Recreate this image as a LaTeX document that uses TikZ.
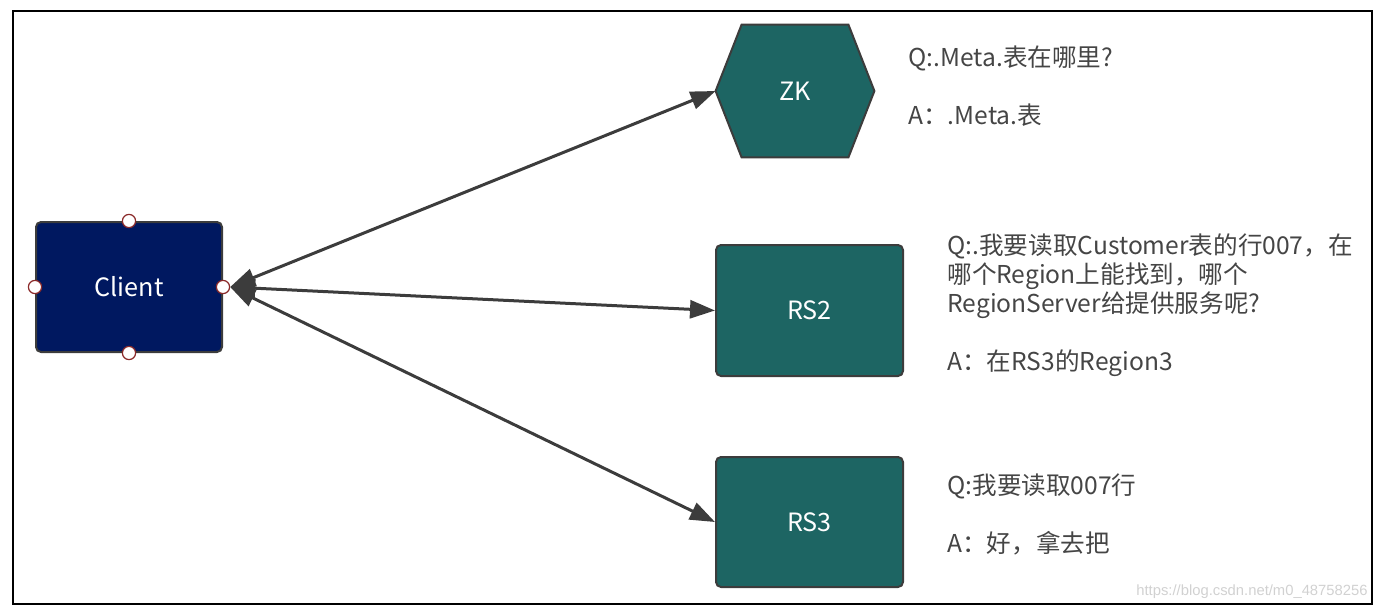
\documentclass[tikz,border=0pt]{standalone}
\usepackage{fontspec}
\setmainfont{Noto Sans CJK SC}
\newfontfamily\wmfont{Liberation Sans}
\usetikzlibrary{arrows.meta,backgrounds}

\definecolor{clientblue}{HTML}{001860}
\definecolor{serverteal}{HTML}{1D6563}
\definecolor{edgegray}{HTML}{3C3C3C}
\definecolor{portred}{HTML}{8B2A2A}
\definecolor{notegray}{HTML}{454545}

\tikzset{
	box/.style={draw=edgegray, line width=1pt, rounded corners=2.5pt, inner sep=0pt,
		text=white, font=\fontsize{12.6}{14}\selectfont},
	port/.style={circle, draw=portred, fill=white, line width=0.6pt, inner sep=0pt, minimum size=6.6pt},
	link/.style={draw=edgegray, line width=1.5pt, {Triangle[length=12.5pt,width=9pt]}-{Triangle[length=12.5pt,width=9pt]}},
	note/.style={anchor=north west, align=left, inner sep=0pt, text=notegray,
		font=\fontsize{12.3}{14.6}\selectfont},
}

\begin{document}
\begin{tikzpicture}[x=0.5pt, y=-0.5pt]
	\useasboundingbox (0,0) rectangle (1380,611);
	\draw[line width=1.4pt] (13,11) rectangle (1372,604);

	% client and its ports
	\node [box, fill=clientblue, minimum width=93pt, minimum height=65pt] (client) at (129,287) {Client};
	\node [port] (cn) at (client.north) {};
	\node [port] (cw) at (client.west) {};
	\node [port] (ce) at (client.east) {};
	\node [port] (cs) at (client.south) {};

	% zookeeper and region servers
	\node [inner sep=0pt, minimum width=79pt, minimum height=66pt, text=white,
		font=\fontsize{12.6}{14}\selectfont] (zk) at (795,91) {ZK};
	\begin{scope}[on background layer]
		\draw[fill=serverteal, draw=edgegray, line width=1pt]
			(zk.west) -- ([xshift=13pt]zk.north west) -- ([xshift=-13pt]zk.north east)
			-- (zk.east) -- ([xshift=-13pt]zk.south east) -- ([xshift=13pt]zk.south west) -- cycle;
	\end{scope}
	\node [box, fill=serverteal, minimum width=93.5pt, minimum height=65.5pt] (rs2) at (809.5,310.5) {RS2};
	\node [box, fill=serverteal, minimum width=93.5pt, minimum height=65pt] (rs3) at (809.5,522) {RS3};

	\draw[link] (ce.east) -- (zk.west);
	\draw[link] (ce.east) -- (rs2.west);
	\draw[link] (ce.east) -- (rs3.west);

	% questions and answers
	\node [note] (qzk) at (908,45) {Q:.Meta.表在哪里?\\[14.6pt]A：.Meta.表};
	\node [note] (qrs2) at (947,233) {Q:.我要读取Customer表的行007，在\\哪个Region上能找到，哪个\\RegionServer给提供服务呢?\\[14.6pt]A：在RS3的Region3};
	\node [note] (qrs3) at (947,473) {Q:我要读取007行\\[14.6pt]A：好，拿去把};

	\node [anchor=east, inner sep=0pt, text=black!18, font=\wmfont\fontsize{7.4}{9}\selectfont] (mark) at (1368,592) {https://blog.csdn.net/m0\_48758256};
\end{tikzpicture}
\end{document}
